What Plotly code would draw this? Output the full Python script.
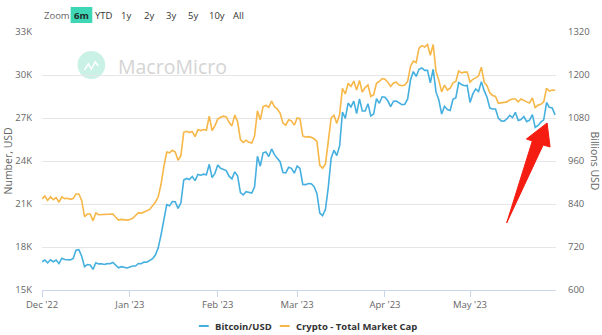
import pandas as pd
import plotly.graph_objects as go

# ---------------- data ----------------
start_date = "2022-12-01"
end_date = "2023-05-31"

btc_usd = [
    # Dec 2022
    16970, 17090, 16890, 17110, 16970, 17090, 16840, 17220, 17130, 17130, 17100, 17200, 17780, 17810, 17360, 16630,
    16780, 16740, 16440, 16900, 16820, 16830, 16780, 16840, 16830, 16920, 16710, 16550, 16630, 16600, 16540,
    # Jan 2023
    16610, 16670, 16670, 16850, 16830, 16950, 16940, 17090, 17180, 17440, 17940, 18850, 19930, 20950, 20870, 21170,
    21160, 20690, 21080, 22680, 22780, 22710, 22920, 22630, 23060, 23010, 23080, 23030, 23770, 22840, 23140,
    # Feb 2023
    23720, 23490, 23430, 23330, 22940, 22760, 23240, 22960, 21800, 21630, 21860, 21790, 21770, 22200, 24330, 23640,
    24570, 24630, 24310, 24840, 24440, 24190, 23950, 23200, 23170, 23560, 23490, 23150,
    # Mar 2023
    23650, 23480, 22360, 22350, 22430, 22410, 22200, 21720, 20360, 20190, 20630, 22160, 24200, 24750, 24380, 25050,
    27420, 26970, 28040, 27770, 28180, 27310, 28330, 27490, 27490, 28000, 27140, 27270, 28350, 28030, 28480,
    # Apr 2023
    28450, 28200, 27790, 28170, 28180, 28040, 27930, 27960, 28330, 29650, 30240, 29900, 30400, 30490, 30320, 30320,
    29450, 30400, 28820, 28250, 27280, 27820, 27590, 27520, 28310, 28420, 29470, 29340, 29250, 29270,
    # May 2023
    28090, 28680, 29030, 28850, 29530, 28910, 28450, 27690, 27630, 27630, 26990, 26800, 26780, 26930, 27190, 27030,
    27400, 26830, 26890, 27100, 26750, 26850, 27230, 26340, 26480, 26720, 26870, 28080, 27740, 27700, 27220,
]

total_mcap_bn = [
    # Dec 2022
    854, 862, 850, 860, 852, 858, 845, 860, 855, 856, 853, 855, 868, 868, 850, 805,
    812, 812, 793, 815, 810, 810, 810, 811, 810, 812, 803, 795, 797, 796, 795,
    # Jan 2023
    797, 800, 808, 816, 814, 818, 820, 825, 835, 845, 860, 895, 945, 985, 983, 990,
    985, 962, 975, 1040, 1043, 1040, 1042, 1028, 1047, 1045, 1048, 1046, 1085, 1045, 1058,
    # Feb 2023
    1077, 1082, 1085, 1083, 1068, 1058, 1088, 1070, 1020, 1012, 1018, 1012, 1010, 1030, 1100, 1075,
    1112, 1115, 1110, 1127, 1112, 1105, 1094, 1066, 1060, 1075, 1072, 1060,
    # Mar 2023
    1080, 1078, 1030, 1027, 1028, 1026, 1022, 1015, 948, 940, 952, 1015, 1080, 1088, 1065, 1090,
    1163, 1147, 1177, 1168, 1183, 1158, 1185, 1152, 1165, 1172, 1140, 1145, 1177, 1182, 1190,
    # Apr 2023
    1188, 1180, 1168, 1178, 1180, 1172, 1170, 1172, 1182, 1224, 1239, 1235, 1275, 1282, 1278, 1285,
    1255, 1285, 1210, 1185, 1153, 1172, 1158, 1163, 1178, 1182, 1211, 1206, 1208, 1208,
    # May 2023
    1180, 1188, 1192, 1197, 1222, 1180, 1170, 1150, 1143, 1140, 1121, 1123, 1124, 1125, 1130, 1133,
    1133, 1125, 1133, 1128, 1125, 1122, 1136, 1109, 1116, 1118, 1125, 1163, 1155, 1158, 1157,
]

left_tickvals = [15000, 18000, 21000, 24000, 27000, 30000, 33000]
left_ticktext = ["15K", "18K", "21K", "24K", "27K", "30K", "33K"]
right_tickvals = [600, 720, 840, 960, 1080, 1200, 1320]
x_tickvals = ["2022-12-01", "2023-01-01", "2023-02-01", "2023-03-01", "2023-04-01", "2023-05-01"]
x_ticktext = ["Dec '22", "Jan '23", "Feb '23", "Mar '23", "Apr '23", "May '23"]
range_buttons = ["YTD", "1y", "2y", "3y", "5y", "10y", "All"]

series_names = ["Bitcoin/USD", "Crypto - Total Market Cap"]
BLUE = "#45b0df"
ORANGE = "#f7b748"

dates = pd.date_range(start_date, end_date, freq="D")

# ---------------- layout helpers ----------------
W, H = 602, 335
L, R, T, B = 42, 563, 32, 290
FONT = "Open Sans"


def px(x, y):
    return (x - L) / (R - L), (B - y) / (B - T)


fig = go.Figure()
fig.add_trace(go.Scatter(x=dates, y=btc_usd, name=series_names[0], mode="lines",
                         line=dict(color=BLUE, width=1.6), yaxis="y", showlegend=False))
fig.add_trace(go.Scatter(x=dates, y=total_mcap_bn, name=series_names[1], mode="lines",
                         line=dict(color=ORANGE, width=1.6), yaxis="y2", showlegend=False))

shapes = []
annotations = []

# watermark
cx, cy = px(92, 65)
rx = 14 / (R - L)
ry = 14 / (B - T)
shapes.append(dict(type="circle", xref="paper", yref="paper", x0=cx - rx, x1=cx + rx, y0=cy - ry, y1=cy + ry,
                   fillcolor="#c9f1e6", line=dict(width=0), layer="below"))
icon = [(85, 70), (89, 64), (92, 69), (96, 62), (99, 66)]
icon_p = [px(*p) for p in icon]
shapes.append(dict(type="path", xref="paper", yref="paper",
                   path="M " + " L ".join(f"{a:.4f},{b:.4f}" for a, b in icon_p),
                   line=dict(color="white", width=1.5), layer="below"))
wx, wy = px(117, 66)
annotations.append(dict(text="MacroMicro", x=wx, y=wy, xref="paper", yref="paper", xanchor="left",
                        yanchor="middle", showarrow=False, font=dict(family=FONT, size=19.5, color="#d4d4d4")))

# red arrow
arrow_pts = [(513, 223), (539, 141), (533, 139), (554, 123), (557, 147), (550, 145)]
ap = [px(*p) for p in arrow_pts]
shapes.append(dict(type="path", xref="paper", yref="paper",
                   path="M " + " L ".join(f"{a:.4f},{b:.4f}" for a, b in ap) + " Z",
                   fillcolor="#f51d12", line=dict(color="#f51d12", width=1)))

# range selector look-alike
BTN_SIZE = 9.5
zx, zy = px(42, 15)
annotations.append(dict(text="Zoom", x=zx, y=zy, xref="paper", yref="paper", xanchor="left", yanchor="middle",
                        showarrow=False, font=dict(family=FONT, size=BTN_SIZE, color="#666666")))
bx0, by0 = px(71, 23)
bx1, by1 = px(93, 7)
shapes.append(dict(type="rect", xref="paper", yref="paper", x0=bx0, x1=bx1, y0=by0, y1=by1,
                   fillcolor="#3ed6b4", line=dict(width=0)))
mx, my = px(82, 15)
annotations.append(dict(text="<b>6m</b>", x=mx, y=my, xref="paper", yref="paper", xanchor="center",
                        yanchor="middle", showarrow=False, font=dict(family=FONT, size=BTN_SIZE, color="#1e2b2b")))
btn_centers = [104.7, 127.5, 150.3, 172.8, 195.5, 219, 241.3]
for lbl, c in zip(range_buttons, btn_centers):
    bx, byy = px(c, 15)
    annotations.append(dict(text=lbl, x=bx, y=byy, xref="paper", yref="paper", xanchor="center",
                            yanchor="middle", showarrow=False, font=dict(family=FONT, size=BTN_SIZE, color="#333333")))

# axis titles
tx, ty = px(8, 161)
annotations.append(dict(text="Number, USD", x=tx, y=ty, xref="paper", yref="paper", textangle=-90,
                        xanchor="center", yanchor="middle", showarrow=False,
                        font=dict(family=FONT, size=10.5, color="#666666")))
tx2, ty2 = px(603, 161)
annotations.append(dict(text="Billions USD", x=tx2, y=ty2, xref="paper", yref="paper", textangle=90,
                        xanchor="center", yanchor="middle", showarrow=False,
                        font=dict(family=FONT, size=10.5, color="#666666")))

# custom legend
leg = [(201, 211, 215, series_names[0], BLUE), (283, 293, 297, series_names[1], ORANGE)]
for x0, x1, xt, name, col in leg:
    a0, yy = px(x0, 326)
    a1, _ = px(x1, 326)
    shapes.append(dict(type="line", xref="paper", yref="paper", x0=a0, x1=a1, y0=yy, y1=yy,
                       line=dict(color=col, width=2)))
    at, _ = px(xt, 326)
    annotations.append(dict(text=f"<b>{name}</b>", x=at, y=yy, xref="paper", yref="paper", xanchor="left",
                            yanchor="middle", showarrow=False, font=dict(family=FONT, size=9.5, color="#333333")))

fig.update_layout(
    width=W, height=H,
    margin=dict(l=L, r=W - R, t=T, b=H - B, pad=0),
    paper_bgcolor="white", plot_bgcolor="white",
    font=dict(family=FONT, size=10, color="#666666"),
    showlegend=False,
    xaxis=dict(type="date", range=["2022-12-01", "2023-05-31 08:00"], tickvals=x_tickvals, ticktext=x_ticktext,
               showgrid=False, showline=True, linecolor="#ccd6eb", linewidth=1, ticks="outside", ticklen=6,
               tickcolor="#ccd6eb", tickfont=dict(family=FONT, size=9.5, color="#666666"), zeroline=False),
    yaxis=dict(range=[15000, 33000], tickvals=left_tickvals, ticktext=left_ticktext, showgrid=True,
               gridcolor="#e6e6e6", gridwidth=1, zeroline=False, showline=False, ticks="", ticklabelstandoff=9,
               tickfont=dict(family=FONT, size=9.5, color="#666666")),
    yaxis2=dict(range=[600, 1320], tickvals=right_tickvals, overlaying="y", side="right", showgrid=False,
                zeroline=False, showline=False, ticks="", ticklabelstandoff=11,
                tickfont=dict(family=FONT, size=9.5, color="#666666")),
    shapes=shapes,
    annotations=annotations,
)

fig.write_html("out.html")
